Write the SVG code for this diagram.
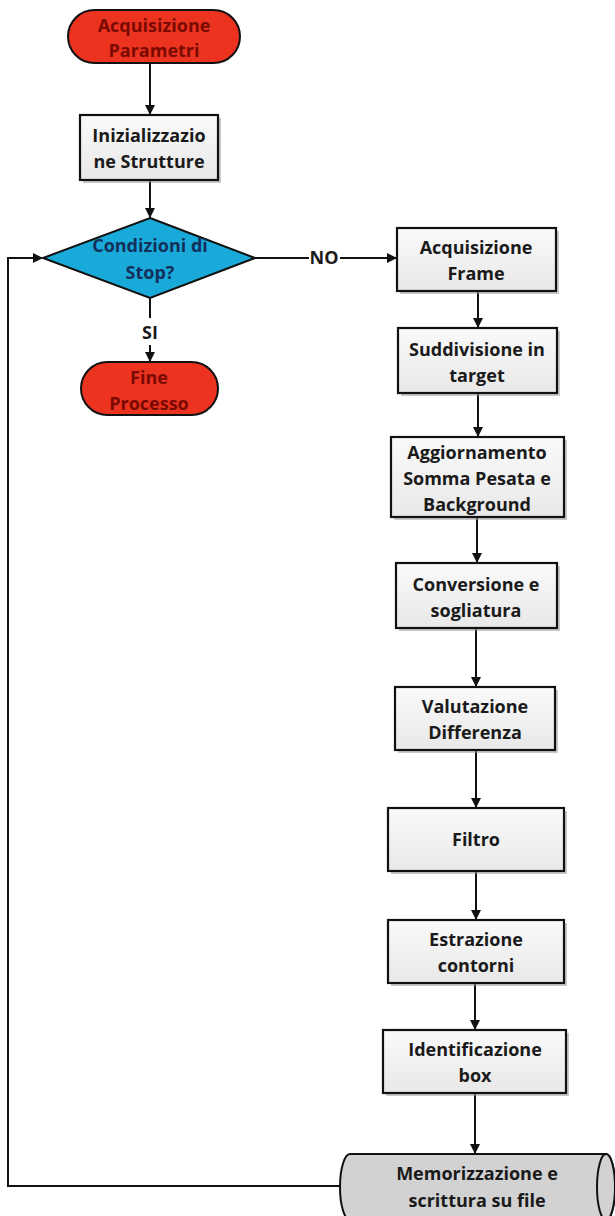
<svg xmlns="http://www.w3.org/2000/svg" width="615" height="1216" viewBox="0 0 615 1216">
<defs>
<style>
.box{fill:url(#g);stroke:#111;stroke-width:2.2}
.term{fill:#ec3320;stroke:#111;stroke-width:2}
.dia{fill:#19aada;stroke:#111;stroke-width:2}
.cyl{fill:#d2d2d2;stroke:#111;stroke-width:2}
.sh{fill:#9a9a9a;opacity:0.55}
.t{font-family:"Open Sans","Liberation Sans",sans-serif;font-weight:bold;font-size:18px;fill:#1a1a1a;text-anchor:middle}
.tr{fill:#7a0a00}
.tb{fill:#12305a}
.c{fill:none;stroke:#111;stroke-width:2}
</style>
<linearGradient id="g" x1="0" y1="0" x2="0" y2="1">
<stop offset="0" stop-color="#fafafa"/>
<stop offset="1" stop-color="#e8e8e8"/>
</linearGradient>
<marker id="a" markerWidth="10" markerHeight="10" refX="9" refY="5" orient="auto" markerUnits="userSpaceOnUse">
<path d="M0,0 L10,5 L0,10 Z" fill="#111"/>
</marker>
</defs>
<rect width="615" height="1216" fill="#fff"/>

<g id="connectors">
<path class="c" d="M150,63 V114" marker-end="url(#a)"/>
<path class="c" d="M150,180 V217" marker-end="url(#a)"/>
<path class="c" d="M150,298 V318"/>
<path class="c" d="M150,345 V361" marker-end="url(#a)"/>
<path class="c" d="M255,258 H309"/>
<path class="c" d="M340,258 H396" marker-end="url(#a)"/>
<path class="c" d="M340,1186 H8 V258 H42" marker-end="url(#a)"/>
<path class="c" d="M478,291 V327" marker-end="url(#a)"/>
<path class="c" d="M478,393 V436" marker-end="url(#a)"/>
<path class="c" d="M477,517 V562" marker-end="url(#a)"/>
<path class="c" d="M476,628 V686" marker-end="url(#a)"/>
<path class="c" d="M476,750 V807" marker-end="url(#a)"/>
<path class="c" d="M476,871 V919" marker-end="url(#a)"/>
<path class="c" d="M475,983 V1029" marker-end="url(#a)"/>
<path class="c" d="M475,1093 V1153" marker-end="url(#a)"/>
<text class="t" x="324" y="264">NO</text>
<text class="t" x="150" y="339">SI</text>
</g>

<g id="start">
<rect class="term" x="68" y="10" width="172" height="53" rx="26.5"/>
<text class="t tr" x="154" y="32">Acquisizione</text>
<text class="t tr" x="154" y="57">Parametri</text>
</g>

<g id="init">
<rect class="sh" x="83" y="118" width="138" height="65"/>
<rect class="box" x="80" y="115" width="138" height="65"/>
<text class="t" x="149" y="142">Inizializzazio</text>
<text class="t" x="149" y="168">ne Strutture</text>
</g>

<g id="decision">
<polygon class="dia" points="150,218 255,258 150,298 43,258"/>
<text class="t tb" x="150" y="252">Condizioni di</text>
<text class="t tb" x="150" y="279">Stop?</text>
</g>

<g id="end">
<rect class="term" x="81" y="362" width="137" height="53" rx="26.5"/>
<text class="t tr" x="149" y="384">Fine</text>
<text class="t tr" x="149" y="410">Processo</text>
</g>

<g id="frame">
<rect class="sh" x="400" y="231" width="159" height="63"/>
<rect class="box" x="397" y="228" width="159" height="63"/>
<text class="t" x="476" y="254">Acquisizione</text>
<text class="t" x="476" y="280">Frame</text>
</g>

<g id="target">
<rect class="sh" x="401" y="331" width="159" height="65"/>
<rect class="box" x="398" y="328" width="159" height="65"/>
<text class="t" x="477" y="356">Suddivisione in</text>
<text class="t" x="477" y="382">target</text>
</g>

<g id="aggiornamento">
<rect class="sh" x="394" y="440" width="173" height="80"/>
<rect class="box" x="391" y="437" width="173" height="80"/>
<text class="t" x="477" y="459">Aggiornamento</text>
<text class="t" x="477" y="485">Somma Pesata e</text>
<text class="t" x="477" y="511">Background</text>
</g>

<g id="conversione">
<rect class="sh" x="399" y="566" width="161" height="65"/>
<rect class="box" x="396" y="563" width="161" height="65"/>
<text class="t" x="476" y="591">Conversione e</text>
<text class="t" x="476" y="617">sogliatura</text>
</g>

<g id="valutazione">
<rect class="sh" x="398" y="690" width="160" height="63"/>
<rect class="box" x="395" y="687" width="160" height="63"/>
<text class="t" x="475" y="713">Valutazione</text>
<text class="t" x="475" y="739">Differenza</text>
</g>

<g id="filtro">
<rect class="sh" x="391" y="811" width="176" height="63"/>
<rect class="box" x="388" y="808" width="176" height="63"/>
<text class="t" x="476" y="846">Filtro</text>
</g>

<g id="estrazione">
<rect class="sh" x="391" y="923" width="176" height="63"/>
<rect class="box" x="388" y="920" width="176" height="63"/>
<text class="t" x="476" y="946">Estrazione</text>
<text class="t" x="476" y="972">contorni</text>
</g>

<g id="identificazione">
<rect class="sh" x="386" y="1033" width="183" height="63"/>
<rect class="box" x="383" y="1030" width="183" height="63"/>
<text class="t" x="475" y="1056">Identificazione</text>
<text class="t" x="475" y="1082">box</text>
</g>

<g id="memorizzazione">
<path class="cyl" d="M350,1154 H606 A9,33 0 0 1 606,1220 H350 A10,33 0 0 1 350,1154 Z"/>
<ellipse cx="606" cy="1187" rx="9" ry="33" fill="#d2d2d2" stroke="#111" stroke-width="2"/>
<text class="t" x="477" y="1180">Memorizzazione e</text>
<text class="t" x="477" y="1207">scrittura su file</text>
</g>
</svg>
